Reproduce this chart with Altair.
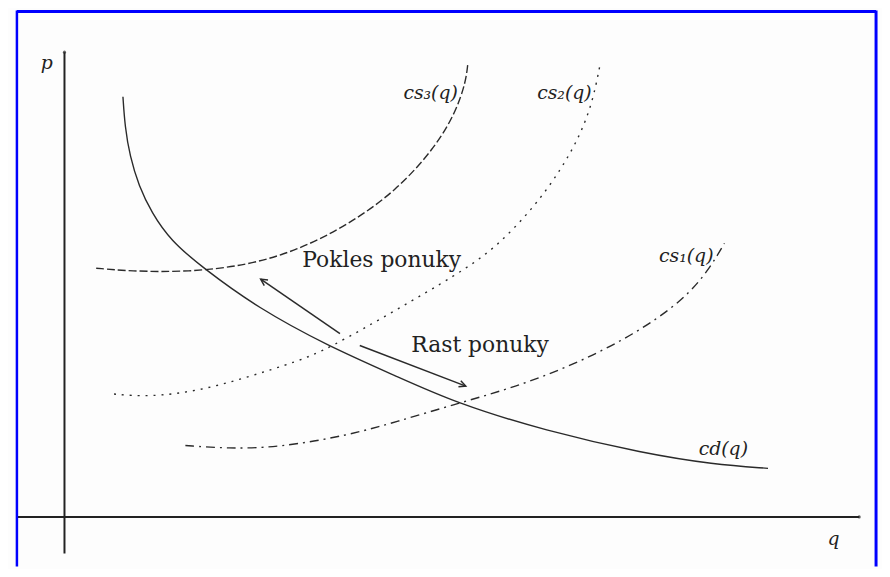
import altair as alt
import pandas as pd
import numpy as np

# curve data (q, p)
cd_q = [0.59, 0.61, 0.66, 0.75, 0.88, 1.07, 1.40, 1.95, 2.65, 3.35, 3.95, 4.85, 5.85, 6.55, 7.10]
cd_p = [4.24, 3.94, 3.64, 3.34, 3.07, 2.79, 2.51, 2.11, 1.73, 1.42, 1.15, 0.87, 0.64, 0.53, 0.49]

cs3_q = [0.32, 0.65, 1.25, 1.85, 2.35, 2.85, 3.35, 3.75, 3.95, 4.05, 4.07]
cs3_p = [2.51, 2.48, 2.47, 2.54, 2.69, 2.94, 3.29, 3.74, 4.09, 4.39, 4.57]

cs2_q = [0.50, 0.85, 1.35, 1.85, 2.35, 2.65, 3.35, 3.95, 4.35, 4.75, 5.00, 5.20, 5.33, 5.40]
cs2_p = [1.24, 1.21, 1.27, 1.41, 1.57, 1.69, 2.09, 2.44, 2.71, 3.14, 3.49, 3.84, 4.19, 4.54]

cs1_q = [1.22, 1.65, 2.15, 2.85, 3.35, 3.95, 4.55, 5.15, 5.75, 6.25, 6.50, 6.66]
cs1_p = [0.72, 0.69, 0.70, 0.82, 0.96, 1.14, 1.31, 1.54, 1.84, 2.19, 2.49, 2.76]

# arrows: start -> end (head at end)
arrow_q = [2.78, 2.98]
arrow_p = [1.85, 1.73]
arrow_q2 = [1.98, 4.05]
arrow_p2 = [2.40, 1.32]

# annotations
note_text = ["Pokles ponuky", "Rast ponuky"]
note_q = [2.40, 3.50]
note_p = [2.52, 1.66]

label_text = ["cs\u2083(q)", "cs\u2082(q)", "cs\u2081(q)", "cd(q)", "p", "q"]
label_q = [3.42, 4.77, 6.00, 6.40, -0.24, 7.70]
label_p = [4.22, 4.22, 2.57, 0.62, 4.52, -0.28]

# axis lines
axis_q = [0.0, -0.48]
axis_q2 = [0.0, 8.02]
axis_p = [-0.37, 0.0]
axis_p2 = [4.69, 0.0]

W, H = 882, 561
xs = alt.Scale(domain=[-0.57, 8.25], nice=False, zero=False)
ys = alt.Scale(domain=[-0.50, 5.11], nice=False, zero=False)

SERIF = "DejaVu Serif"

def curve_df(q, p):
    return pd.DataFrame({"q": q, "p": p, "o": list(range(len(q)))})

ink = "#2a2a2a"

def curve(q, p, dash):
    props = dict(color=ink, strokeWidth=1.4, interpolate="basis")
    if dash:
        props["strokeDash"] = dash
    return alt.Chart(curve_df(q, p)).mark_line(**props).encode(
        x=alt.X("q:Q", scale=xs, axis=None),
        y=alt.Y("p:Q", scale=ys, axis=None),
        order="o:Q",
    )

cd_line = curve(cd_q, cd_p, None)
cs3_line = curve(cs3_q, cs3_p, [8, 3])
cs2_line = curve(cs2_q, cs2_p, [2, 6])
cs1_line = curve(cs1_q, cs1_p, [9, 5, 2, 5])

axes_df = pd.DataFrame({"q": axis_q, "q2": axis_q2, "p": axis_p, "p2": axis_p2})
axes = alt.Chart(axes_df).mark_rule(color="#222222", strokeWidth=2).encode(
    x=alt.X("q:Q", scale=xs, axis=None), x2="q2:Q",
    y=alt.Y("p:Q", scale=ys, axis=None), y2="p2:Q",
)
ends_df = pd.DataFrame({"q": [0.0, 8.02], "p": [4.69, 0.0]})
ends = alt.Chart(ends_df).mark_point(filled=True, color="#222222", size=10).encode(
    x=alt.X("q:Q", scale=xs, axis=None), y=alt.Y("p:Q", scale=ys, axis=None)
)

arr_df = pd.DataFrame({"q": arrow_q, "p": arrow_p, "q2": arrow_q2, "p2": arrow_p2})
arr_df["ang"] = (np.degrees(np.arctan2(arr_df["q2"] - arr_df["q"], arr_df["p2"] - arr_df["p"])) + 360) % 360
arrows = alt.Chart(arr_df).mark_rule(color=ink, strokeWidth=1.5).encode(
    x=alt.X("q:Q", scale=xs, axis=None), x2="q2:Q",
    y=alt.Y("p:Q", scale=ys, axis=None), y2="p2:Q",
)
heads = alt.Chart(arr_df).mark_point(
    shape="M -0.45 0.9 L 0 0 L 0.45 0.9", filled=False, color=ink, strokeWidth=1.5, size=220, opacity=1
).encode(
    x=alt.X("q2:Q", scale=xs, axis=None),
    y=alt.Y("p2:Q", scale=ys, axis=None),
    angle=alt.Angle("ang:Q", scale=None),
)

notes_df = pd.DataFrame({"t": note_text, "q": note_q, "p": note_p})
notes = alt.Chart(notes_df).mark_text(
    align="left", baseline="alphabetic", font=SERIF, fontSize=22, color="#222222"
).encode(
    x=alt.X("q:Q", scale=xs, axis=None), y=alt.Y("p:Q", scale=ys, axis=None), text="t:N"
)

labels_df = pd.DataFrame({"t": label_text, "q": label_q, "p": label_p})
labels = alt.Chart(labels_df).mark_text(
    align="left", baseline="alphabetic", font=SERIF, fontStyle="italic",
    fontSize=19, color="#222222"
).encode(
    x=alt.X("q:Q", scale=xs, axis=None), y=alt.Y("p:Q", scale=ys, axis=None), text="t:N"
)

frame_l = alt.Chart(pd.DataFrame({"a": [0]})).mark_rule(color="#0000ff", strokeWidth=2.5).encode(
    x=alt.value(9), y=alt.value(0), y2=alt.value(H))
frame_r = alt.Chart(pd.DataFrame({"a": [0]})).mark_rule(color="#0000ff", strokeWidth=3).encode(
    x=alt.value(876), y=alt.value(0), y2=alt.value(H))
frame_t = alt.Chart(pd.DataFrame({"a": [0]})).mark_rule(color="#0000ff", strokeWidth=3).encode(
    y=alt.value(1), x=alt.value(9), x2=alt.value(876))

chart = alt.layer(
    axes, ends, cs2_line, cs1_line, cs3_line, cd_line, arrows, heads, notes, labels,
    frame_l, frame_r, frame_t
).properties(
    width=W, height=H, padding=0,
    autosize=alt.AutoSizeParams(type="none"),
    background="#fdfdfd",
).configure_view(stroke=None)

chart.save("out.html", embed_options={"renderer": "svg", "actions": False})
